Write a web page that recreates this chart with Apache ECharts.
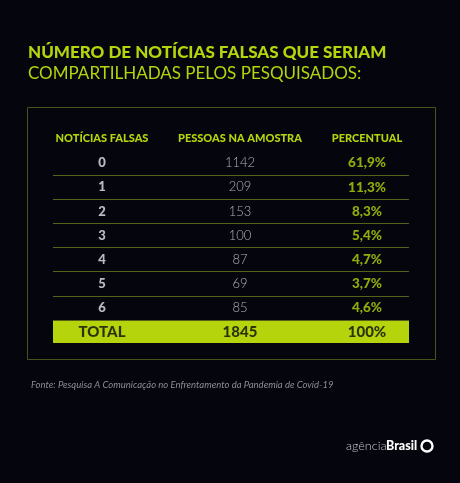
<!DOCTYPE html>
<html><head><meta charset="utf-8">
<script src="https://cdn.jsdelivr.net/npm/echarts@6/dist/echarts.min.js"></script>
<style>html,body{margin:0;padding:0;background:#05060d}#c{width:460px;height:483px}</style>
</head><body><div id="c"></div>
<script>
const headers = ['NOTÍCIAS FALSAS', 'PESSOAS NA AMOSTRA', 'PERCENTUAL'];
const rows = ['0', '1', '2', '3', '4', '5', '6', 'TOTAL'];
const pessoas = ['1142', '209', '153', '100', '87', '69', '85', '1845'];
const percentual = ['61,9%', '11,3%', '8,3%', '5,4%', '4,7%', '3,7%', '4,6%', '100%'];

const LIME = '#b5d40c';
const colX = [49, 187, 314]; // column centres inside the grid (layout)
const FONT = 'Lato, "Open Sans", sans-serif';

function colSeries(ci, values, styleFn) {
  return {
    type: 'scatter', symbolSize: 0, silent: true, z: 5,
    data: values.map((v, i) => ({
      value: [colX[ci], rows[i]],
      label: Object.assign({ show: true, position: 'inside', formatter: v, fontFamily: FONT }, styleFn(i))
    }))
  };
}

const chart = echarts.init(document.getElementById('c'));
chart.setOption({
  backgroundColor: '#05060d',
  title: {
    left: 23, top: 37,
    text: '{b|NÚMERO DE NOTÍCIAS FALSAS QUE SERIAM}\n{r|COMPARTILHADAS PELOS PESQUISADOS:}',
    textStyle: {
      rich: {
        b: { color: LIME, fontSize: 17, fontWeight: 900, fontFamily: FONT, lineHeight: 21 },
        r: { color: LIME, fontSize: 17, fontWeight: 'normal', fontFamily: FONT, lineHeight: 21 }
      }
    }
  },
  grid: { left: 53, right: 51, top: 151, bottom: 139 },
  xAxis: { type: 'value', min: 0, max: 356, show: false },
  yAxis: {
    type: 'category', data: rows, inverse: true,
    axisLine: { show: false }, axisTick: { show: false }, axisLabel: { show: false },
    splitLine: { show: true, interval: 0, lineStyle: { color: '#55631a', width: 1 } }
  },
  series: [
    {
      type: 'bar', silent: true, barWidth: 22, z: 2,
      data: rows.map((r, i) => i === rows.length - 1 ? 356 : null),
      itemStyle: { color: LIME }
    },
    colSeries(0, rows, i => i === 7
      ? { color: '#0a0a0a', fontSize: 15, fontWeight: 900 }
      : { color: '#e8e8f0', fontSize: 13, fontWeight: 900 }),
    colSeries(1, pessoas, i => i === 7
      ? { color: '#0a0a0a', fontSize: 15, fontWeight: 900 }
      : { color: '#d8d8e0', fontSize: 13, fontWeight: 300 }),
    colSeries(2, percentual, i => i === 7
      ? { color: '#0a0a0a', fontSize: 15, fontWeight: 900 }
      : { color: LIME, fontSize: 13.5, fontWeight: 900 })
  ],
  graphic: [
    { type: 'rect', shape: { x: 27.5, y: 107.5, width: 408, height: 252 },
      style: { fill: null, stroke: '#46531a', lineWidth: 1 }, z: 0 },
    { type: 'rect', shape: { x: 40, y: 146, width: 380, height: 9 }, style: { fill: '#05060d' }, z: 3 },
    { type: 'rect', shape: { x: 40, y: 344, width: 380, height: 6 }, style: { fill: '#05060d' }, z: 3 },
    ...headers.map((h, i) => ({
      type: 'text', x: 53 + colX[i], y: 138, z: 6,
      style: { text: h, fill: LIME, font: '900 11px ' + FONT, textAlign: 'center', textVerticalAlign: 'middle' }
    })),
    { type: 'text', x: 31, y: 385, style: { text: 'Fonte: Pesquisa A Comunicação no Enfrentamento da Pandemia de Covid-19',
      fill: '#8a8c98', font: 'italic 9.5px ' + FONT, textVerticalAlign: 'middle' } },
    { type: 'text', x: 346, y: 446, style: { text: 'agência', fill: '#c8c8d0', font: '300 12.5px ' + FONT, textVerticalAlign: 'middle' } },
    { type: 'text', x: 386, y: 446, style: { text: 'Brasil', fill: '#ffffff', font: '900 12.5px ' + FONT, textVerticalAlign: 'middle' } },
    { type: 'circle', shape: { cx: 427, cy: 446, r: 5.5 }, style: { fill: null, stroke: '#ffffff', lineWidth: 2.4 } }
  ]
});
</script></body></html>
